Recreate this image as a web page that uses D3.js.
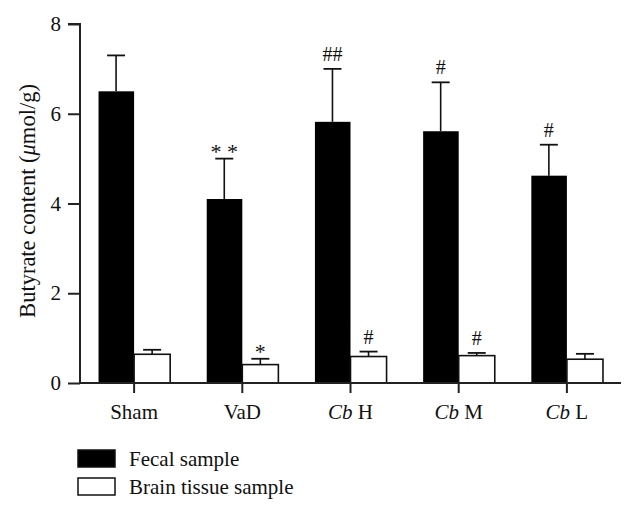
<!DOCTYPE html>
<html>
<head>
<meta charset="utf-8">
<script src="https://cdn.jsdelivr.net/npm/d3@7"></script>
<style>
  html, body { margin: 0; padding: 0; background: #fff; }
  svg { display: block; font-family: "Liberation Serif", "DejaVu Serif", serif; }
</style>
</head>
<body>
<svg id="chart" width="634" height="513"></svg>
<script>
// ---- data ----
const groups = ["Sham", "VaD", "Cb H", "Cb M", "Cb L"];
const fecalMean = [6.5, 4.1, 5.82, 5.61, 4.62];
const fecalErr  = [0.8, 0.9, 1.18, 1.09, 0.69];
const brainMean = [0.64, 0.41, 0.59, 0.61, 0.53];
const brainErr  = [0.10, 0.13, 0.11, 0.06, 0.12];
const fecalMarks = ["", "* *", "##", "#", "#"];
const brainMarks = ["", "*", "#", "#", ""];
const yTicks = [0, 2, 4, 6, 8];
const seriesNames = ["Fecal sample", "Brain tissue sample"];

(function() {
const svg = d3.select("#chart");
const mLeft = 80, mRight = 621, mTop = 24, mBottom = 383;
const serif = "Liberation Serif";

const x = d3.scaleBand().domain(groups).range([mLeft, mRight])
  .paddingInner(1/3).paddingOuter(1/6);
const sub = d3.scaleBand().domain(["fecal", "brain"]).range([0, x.bandwidth()]);
const y = d3.scaleLinear().domain([0, 8]).range([mBottom, mTop]);

const fs = 21;
const axisColor = "#222";

const series = [
  { key: "fecal", mean: fecalMean, err: fecalErr, marks: fecalMarks, fill: "#000" },
  { key: "brain", mean: brainMean, err: brainErr, marks: brainMarks, fill: "#fff" }
];

series.forEach(s => {
  const g = svg.append("g");
  groups.forEach((grp, i) => {
    const x0 = x(grp) + sub(s.key);
    const w = sub.bandwidth();
    const cx = x0 + w / 2;
    const eTop = y(s.mean[i] + s.err[i]);
    g.append("line").attr("x1", cx).attr("x2", cx)
      .attr("y1", y(s.mean[i])).attr("y2", eTop)
      .attr("stroke", "#111").attr("stroke-width", 1.6);
    g.append("line").attr("x1", cx - 9).attr("x2", cx + 9)
      .attr("y1", eTop).attr("y2", eTop)
      .attr("stroke", "#111").attr("stroke-width", 1.8);
    g.append("rect")
      .attr("x", x0 + (s.key === "brain" ? 0 : 0.5))
      .attr("y", y(s.mean[i]))
      .attr("width", w - (s.key === "brain" ? 0 : 0.5))
      .attr("height", y(0) - y(s.mean[i]))
      .attr("fill", s.fill)
      .attr("stroke", s.key === "brain" ? "#111" : "none")
      .attr("stroke-width", 1.6);
    const m = s.marks[i];
    if (m) {
      const isStar = m.indexOf("*") >= 0;
      g.append("text")
        .attr("x", cx)
        .attr("y", eTop - (isStar ? 0 : 8))
        .attr("text-anchor", "middle")
        .attr("font-family", serif)
        .attr("font-size", isStar ? 22 : 20)
        .attr("fill", "#111")
        .text(m);
    }
  });
});

// y axis
const yAxis = d3.axisLeft(y).tickValues(yTicks).tickSize(12).tickPadding(7).tickFormat(d3.format("d"));
const ya = svg.append("g").attr("transform", `translate(${mLeft},0)`).call(yAxis)
  .attr("font-family", serif).attr("font-size", fs);
ya.select(".domain").attr("stroke", axisColor).attr("stroke-width", 2).attr("d", `M-12,${mTop}H0V${mBottom}`);
ya.selectAll(".tick line").attr("stroke", axisColor).attr("stroke-width", 2);
ya.selectAll(".tick text").attr("fill", "#111");

// x axis
const xAxis = d3.axisBottom(x).tickSize(10).tickPadding(14).tickFormat(() => "");
const xa = svg.append("g").attr("transform", `translate(0,${mBottom})`).call(xAxis)
  .attr("font-family", serif).attr("font-size", fs);
xa.select(".domain").attr("stroke", axisColor).attr("stroke-width", 2).attr("d", `M${mLeft},0H${mRight}`);
xa.selectAll(".tick line").attr("stroke", axisColor).attr("stroke-width", 2);
xa.selectAll(".tick").each(function(d) {
  const t = d3.select(this).append("text")
    .attr("y", 36).attr("text-anchor", "middle")
    .attr("fill", "#111");
  if (d.startsWith("Cb ")) {
    t.append("tspan").attr("font-style", "italic").text("Cb");
    t.append("tspan").text(" " + d.slice(3));
  } else {
    t.text(d);
  }
});

// y label
const yl = svg.append("text")
  .attr("transform", `translate(35,201) rotate(-90)`)
  .attr("text-anchor", "middle")
  .attr("font-family", serif)
  .attr("font-size", 22.5).attr("fill", "#111");
yl.append("tspan").text("Butyrate content (");
yl.append("tspan").attr("font-style", "italic").text("μ");
yl.append("tspan").text("mol/g)");

// legend
const legend = svg.append("g").attr("font-family", serif);
seriesNames.forEach((name, i) => {
  const ly = 450 + i * 28;
  legend.append("rect").attr("x", 78).attr("y", ly)
    .attr("width", 37).attr("height", 17)
    .attr("fill", series[i].fill)
    .attr("stroke", "#111").attr("stroke-width", 1.5);
  legend.append("text").attr("x", 129).attr("y", ly + 16)
    .attr("font-size", fs).attr("fill", "#111").text(name);
});
})();
</script>
</body>
</html>
